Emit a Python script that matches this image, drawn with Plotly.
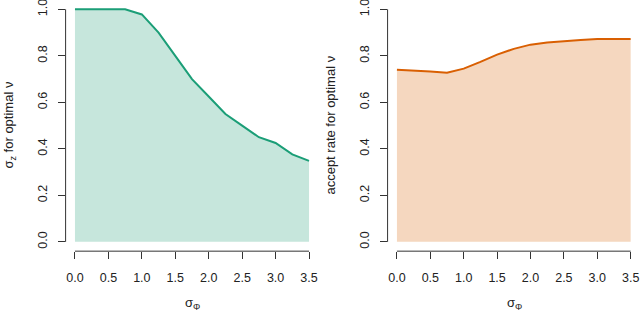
import plotly.graph_objects as go

sigma_phi = [0.0, 0.25, 0.5, 0.75, 1.0, 1.25, 1.5, 1.75, 2.0, 2.25, 2.5, 2.75, 3.0, 3.25, 3.5]
sigma_z_opt = [1.0, 1.0, 1.0, 1.0, 0.978, 0.90, 0.80, 0.70, 0.625, 0.55, 0.50, 0.45, 0.425, 0.376, 0.348]
accept_rate = [0.740, 0.737, 0.733, 0.727, 0.745, 0.774, 0.805, 0.830, 0.848, 0.857, 0.864, 0.868, 0.872, 0.872, 0.872]

x_ticks = [0.0, 0.5, 1.0, 1.5, 2.0, 2.5, 3.0, 3.5]
x_ticklabels = ["0.0", "0.5", "1.0", "1.5", "2.0", "2.5", "3.0", "3.5"]
y_ticks = [0.0, 0.2, 0.4, 0.6, 0.8, 1.0]
y_ticklabels = ["0.0", "0.2", "0.4", "0.6", "0.8", "1.0"]

left_ylabel = "σ<sub>z</sub> for optimal ν"
right_ylabel = "accept rate for optimal ν"
xlabel = "σ<sub>Φ</sub>"

green_line = "#1b9e77"
green_fill = "#c6e6dc"
orange_line = "#d95f02"
orange_fill = "#f5d7bf"

FONT = "Liberation Sans, Arial, Helvetica, sans-serif"

fig = go.Figure()
fig.add_trace(go.Scatter(x=sigma_phi, y=sigma_z_opt, mode="lines", fill="tozeroy",
                         fillcolor=green_fill, line=dict(color=green_line, width=2),
                         xaxis="x", yaxis="y", showlegend=False, hoverinfo="skip"))
fig.add_trace(go.Scatter(x=sigma_phi, y=accept_rate, mode="lines", fill="tozeroy",
                         fillcolor=orange_fill, line=dict(color=orange_line, width=2),
                         xaxis="x2", yaxis="y2", showlegend=False, hoverinfo="skip"))

xr = [-0.14, 3.64]
yr = [-0.04, 1.04]
ydom = [0.195, 1.0]

common_x = dict(range=xr, tickmode="array", tickvals=x_ticks, ticktext=x_ticklabels,
                ticks="outside", ticklen=7, tickwidth=1, tickcolor="#333",
                showline=False, showgrid=False, zeroline=False, ticklabeloverflow="allow",
                tickfont=dict(family=FONT, size=12.5, color="#222"), ticklabelstandoff=8)
common_y = dict(range=yr, domain=ydom, tickmode="array", tickvals=y_ticks, ticktext=y_ticklabels,
                ticks="outside", ticklen=7, tickwidth=1, tickcolor="#333",
                showline=False, showgrid=False, zeroline=False, tickangle=-90,
                ticklabeloverflow="allow",
                tickfont=dict(family=FONT, size=12.5, color="#222"), ticklabelstandoff=6)

fig.update_layout(
    width=640, height=312,
    margin=dict(l=0, r=0, t=0, b=0),
    paper_bgcolor="white", plot_bgcolor="white",
    font=dict(family=FONT, size=12, color="#222"),
    xaxis=dict(domain=[0.1025, 0.4975], anchor="y", **common_x),
    yaxis=dict(anchor="x", **common_y),
    xaxis2=dict(domain=[0.6056, 1.0], anchor="y2", **common_x),
    yaxis2=dict(anchor="x2", **common_y),
)

shapes = []
for xa, ya in (("x", "y"), ("x2", "y2")):
    shapes.append(dict(type="line", xref=xa, yref=ya + " domain",
                       x0=min(x_ticks), x1=max(x_ticks), y0=0, y1=0,
                       line=dict(color="#333", width=1)))
    shapes.append(dict(type="line", xref=xa + " domain", yref=ya,
                       x0=0, x1=0, y0=min(y_ticks), y1=max(y_ticks),
                       line=dict(color="#333", width=1)))
fig.update_layout(shapes=shapes)

ymid = (ydom[0] + ydom[1]) / 2
annotations = [
    dict(text=left_ylabel, xref="paper", yref="paper", x=10 / 640, y=ymid,
         textangle=-90, showarrow=False, font=dict(family=FONT, size=13, color="#222"),
         xanchor="center", yanchor="middle"),
    dict(text=right_ylabel, xref="paper", yref="paper", x=331 / 640, y=ymid,
         textangle=-90, showarrow=False, font=dict(family=FONT, size=13, color="#222"),
         xanchor="center", yanchor="middle"),
    dict(text=xlabel, xref="paper", yref="paper", x=192 / 640, y=1 - 303 / 312,
         showarrow=False, font=dict(family=FONT, size=13, color="#222"),
         xanchor="center", yanchor="middle"),
    dict(text=xlabel, xref="paper", yref="paper", x=514 / 640, y=1 - 303 / 312,
         showarrow=False, font=dict(family=FONT, size=13, color="#222"),
         xanchor="center", yanchor="middle"),
]
fig.update_layout(annotations=annotations)

fig.write_html("out.html", config={"displayModeBar": False},
               post_script="document.body.style.margin='0px';document.body.style.padding='0px';")
